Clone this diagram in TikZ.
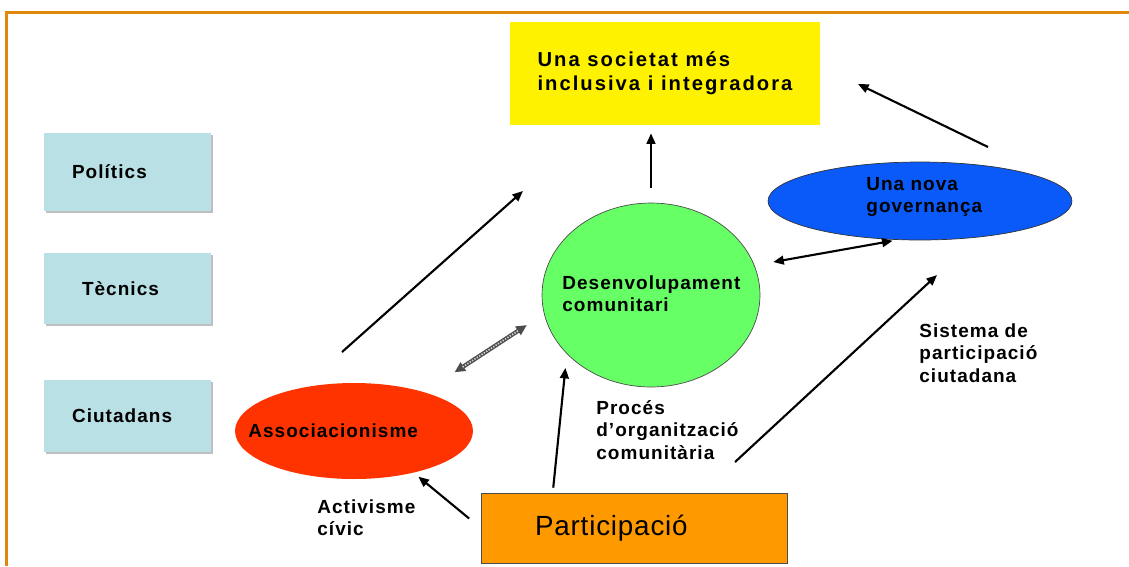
\documentclass[tikz,border=0pt]{standalone}
\usepackage{fontspec}
\setmainfont{Liberation Sans}[LetterSpace=5.5]
\usetikzlibrary{arrows.meta,shapes.geometric,shadows,calc}
\definecolor{framecol}{RGB}{225,135,10}
\definecolor{boxblue}{RGB}{185,224,228}
\definecolor{devgreen}{RGB}{102,255,102}
\definecolor{govblue}{RGB}{10,90,250}
\definecolor{assred}{RGB}{255,51,0}
\definecolor{partorange}{RGB}{255,153,0}
\tikzset{
  frame/.style={draw=framecol, line width=1.5pt},
  lbox/.style={rectangle, fill=boxblue, text width=2.22cm, inner xsep=0.56cm, align=left,
    drop shadow={shadow xshift=1.2pt, shadow yshift=-1.2pt, fill=black, opacity=0.25}},
  ell/.style={ellipse, inner sep=0pt},
  txt/.style={inner sep=0pt, align=left},
  arr/.style={-{Triangle[length=6pt,width=5pt]}, line width=1.2pt},
  arr2/.style={{Triangle[length=6pt,width=5pt]}-{Triangle[length=6pt,width=5pt]}, line width=1.2pt},
  hatch/.style={{Triangle[length=6pt,width=5.5pt]}-{Triangle[length=6pt,width=5.5pt]}, line width=2.4pt, draw=black!70}
}
\begin{document}
\begin{tikzpicture}[x=0.02cm, y=-0.02cm, font=\fontsize{10.8}{12.8}\selectfont\bfseries]
\useasboundingbox (0,0) rectangle (1129,566);
\draw[frame] (6.5,566) -- (6.5,12.5) -- (1129,12.5);

% boxes on the left
\node[lbox, minimum height=1.56cm] (pol) at (127.5,172) {Polítics};
\node[lbox, minimum height=1.42cm] (tec) at (127.5,288.5) {\hspace*{0.2cm}Tècnics};
\node[lbox, minimum height=1.44cm] (ciu) at (127.5,416) {Ciutadans};

% goal and participation
\node[fill=yellow, minimum width=6.2cm, minimum height=2.06cm, align=left,
  font=\fontsize{11.5}{13.6}\selectfont\bfseries\addfontfeature{LetterSpace=10}] (soc) at (665,73.5)
  {Una societat més\\inclusiva i integradora};
\node[draw=black!70, fill=partorange, minimum height=1.4cm, text width=3.96cm, inner xsep=1.08cm, align=left,
  font=\fontsize{15.8}{18}\selectfont\addfontfeature{LetterSpace=3}] (part) at (634,528) {Participació};

% ellipses
\node[ell, fill=devgreen, draw=black!70, minimum width=4.36cm, minimum height=3.68cm] (dev) at (651,295) {};
\node[ell, fill=govblue, draw=black!80, minimum width=6.08cm, minimum height=1.56cm] (gov) at (920,201) {};
\node[ell, fill=assred, minimum width=4.76cm, minimum height=1.92cm] (assoc) at (354,431) {};

\node[txt, anchor=west] (devtxt) at (562,293.5) {Desenvolupament\\comunitari};
\node[txt, anchor=west] (govtxt) at (866,197) {Una nova\\governança};
\node[txt, anchor=west] (asstxt) at (248,431) {Associacionisme};
\node[txt, anchor=west] (activ) at (317,517.5) {Activisme\\cívic};
\node[txt, anchor=west] (proc) at (596,430) {Procés\\d’organització\\comunitària};
\node[txt, anchor=west] (sist) at (919,353) {Sistema de\\participació\\ciutadana};

% free ends
\coordinate (govtail) at (988,147);
\coordinate (govtip) at (858,84);
\coordinate (asstail) at (342,352);
\coordinate (asstip) at (523,191);
\coordinate (parttail) at (735,462);
\coordinate (parttip) at (937,275);

% arrows
\draw[arr, shorten <=0.1cm, shorten >=0.28cm] ($(part.north west)!0.235!(part.north east)$) -- (dev.215);
\draw[arr, shorten <=0.3cm, shorten >=0.16cm] (dev.north) -- (dev.north |- soc.south);
\draw[arr] (govtail) -- (govtip);
\draw[arr2, shorten <=0.38cm, shorten >=0.1cm] (dev.16) -- (gov.240);
\draw[hatch, shorten <=0.72cm, shorten >=0.41cm,
  postaction={draw=black!20, line width=1pt, dash pattern=on 0.8pt off 0.8pt, -,
    shorten <=0.72cm+5.5pt, shorten >=0.41cm+5.5pt}] (assoc.29) -- (dev.190);
\draw[arr] (asstail) -- (asstip);
\draw[arr] (parttail) -- (parttip);
\draw[arr, shorten <=0.3cm, shorten >=0.12cm] (part.west) -- (assoc.-35);
\end{tikzpicture}
\end{document}
